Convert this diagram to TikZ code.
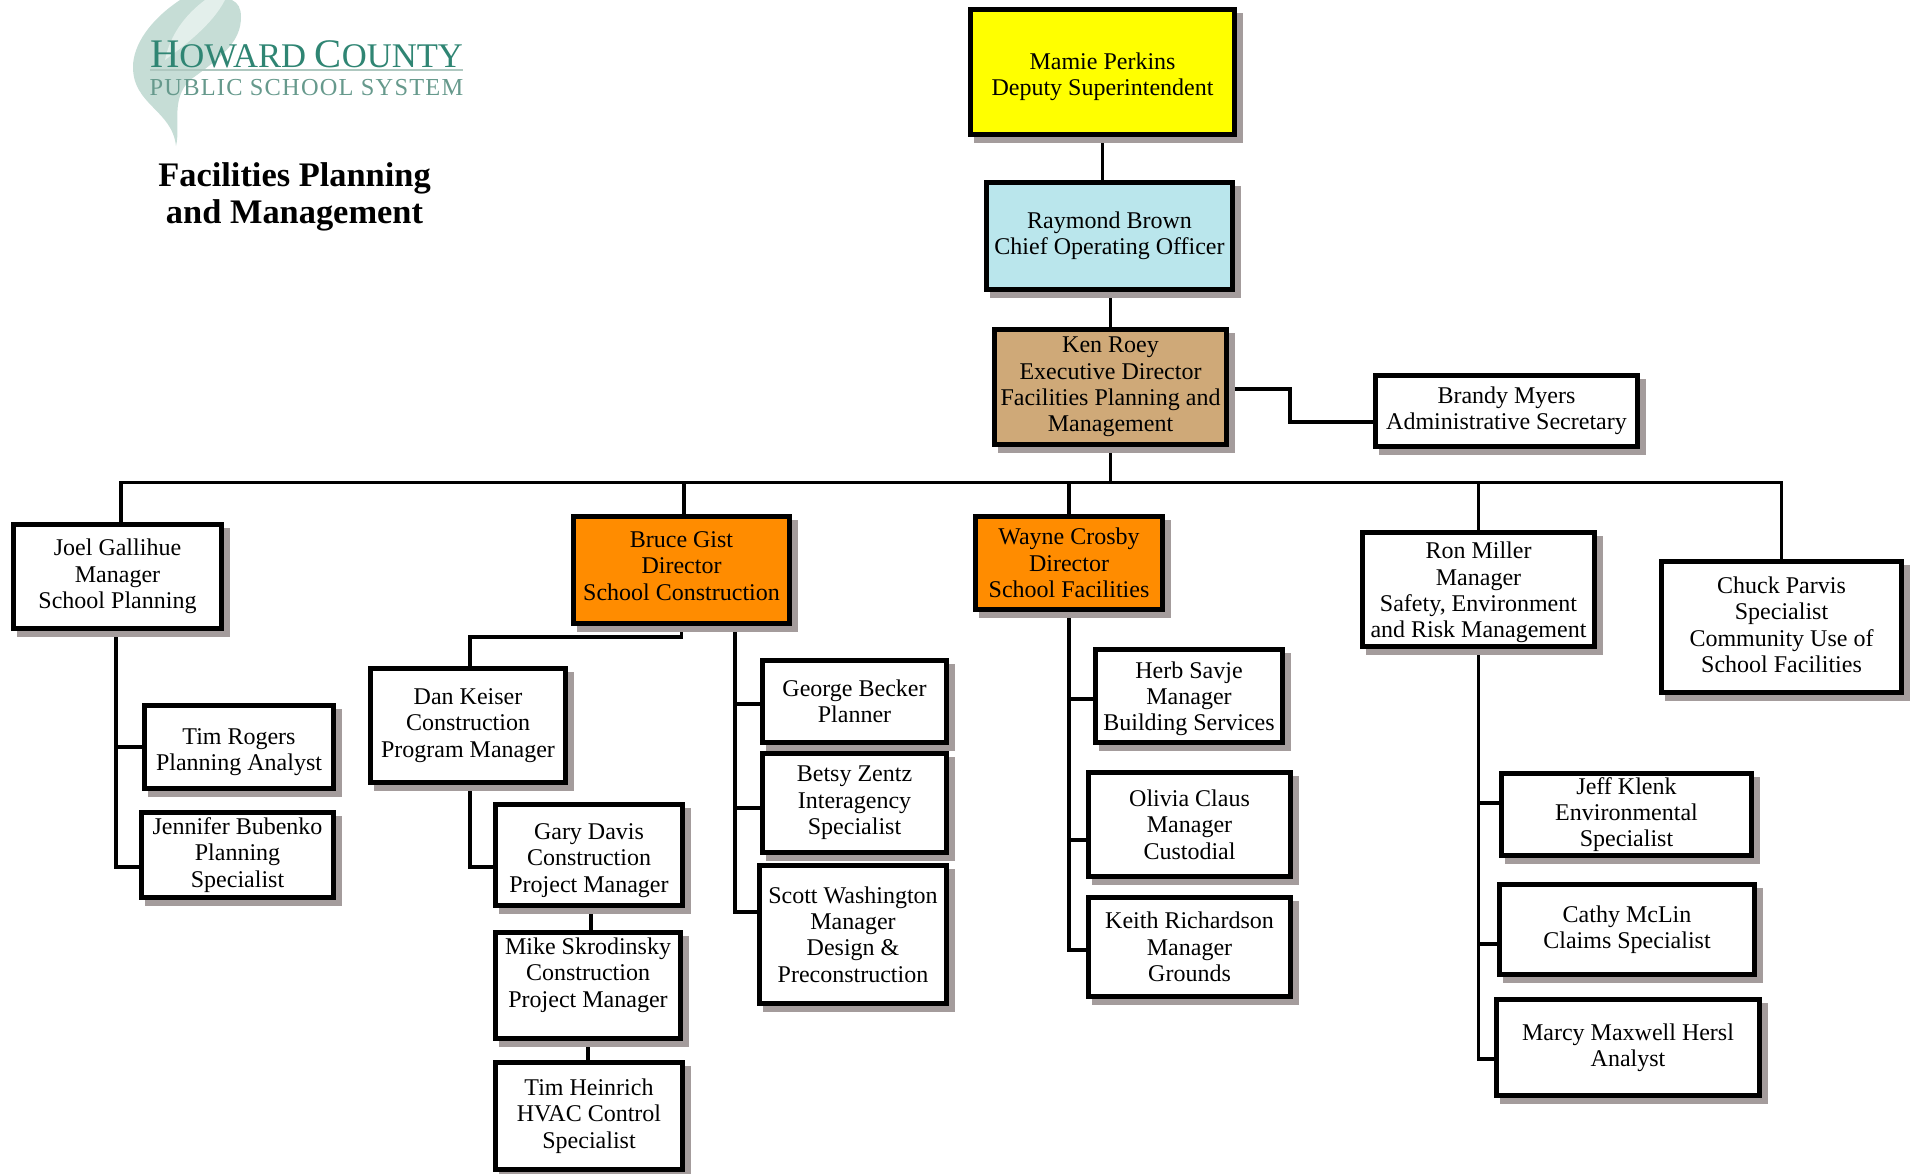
\documentclass[tikz,border=0pt]{standalone}
\usepackage{fontspec}
\setmainfont{Liberation Serif}
\newfontfamily\logospaced[LetterSpace=5]{Liberation Serif}
\usetikzlibrary{backgrounds, positioning, shadows}

\definecolor{boxshadow}{HTML}{A49C9C}
\definecolor{deputyyellow}{HTML}{FFFF00}
\definecolor{officerblue}{HTML}{BAE6EC}
\definecolor{executivetan}{HTML}{CFA978}
\definecolor{directororange}{HTML}{FF8C00}
\definecolor{logoteal}{HTML}{2F8573}
\definecolor{logogray}{HTML}{66998C}
\definecolor{logorule}{HTML}{AFC8C0}
\definecolor{logosmoke}{HTML}{C6DDD6}
\definecolor{logolight}{HTML}{E3EFEB}

\newcommand{\dropby}[1]{\rule{0pt}{#1}}

\tikzset{
	box/.style={draw=black, fill=white, line width=2.5pt, inner sep=0pt, align=center,
		font=\fontsize{12}{13.2}\selectfont,
		drop shadow={shadow xshift=2.75pt, shadow yshift=-3pt, draw=boxshadow, fill=boxshadow, opacity=1}},
	boxsize/.style 2 args={minimum width=(#1-5)*.5pt, minimum height=(#2-5)*.5pt},
	textup/.style={execute at end node=\rule[-#1]{0pt}{#1}},
	link/.style={draw=black, line width=1.6pt}
}

\begin{document}
\begin{tikzpicture}
			
				\useasboundingbox (0,0) rectangle (955.5pt,-586.5pt);
				
				\begin{scope}[x=.5pt, y=-.5pt]
					\fill [logosmoke] (180,0) .. controls (150,20) and (133,45) .. (133,67) .. controls (133,105) and (172,110) .. (176,146) .. controls (181,125) and (170,100) .. (190,80) .. controls (225,55) and (241,40) .. (241,17) .. controls (241,8) and (238,3) .. (232,0) -- cycle;
					\fill [logolight] (205,0) .. controls (185,15) and (170,35) .. (165,60) .. controls (185,45) and (212,25) .. (225,0) -- cycle;
				\end{scope}
				
				\node [text=logoteal, inner sep=0pt]	(howard)	at (153.25pt,-27pt)			{\fontsize{20.3}{20}\selectfont H\fontsize{17.3}{20}\selectfont OWARD \fontsize{20.3}{20}\selectfont C\fontsize{17.3}{20}\selectfont OUNTY};
				\node [text=logogray, inner sep=0pt]	(school)	[below = 5.5pt of howard]	{\logospaced\fontsize{12.2}{12}\selectfont PUBLIC SCHOOL SYSTEM};
				\node [align=center, inner sep=0pt, font=\fontsize{17.2}{18.5}\selectfont\bfseries]	(title)	[below = 33pt of school, xshift=-6pt]	{Facilities Planning\\and Management};
				\draw [logorule, line width=1pt] ([yshift=-1pt]howard.south west) -- ([yshift=-1pt]howard.south east);
				
				\node [box, boxsize={269}{130}, fill=deputyyellow, anchor=north west]	(mamie)	at (484pt,-3.5pt)	{\dropby{13pt}Mamie Perkins\\Deputy Superintendent};
				\node [box, boxsize={251}{112}, fill=officerblue]		(brown)		[below right = 21.5pt and -126.5pt of mamie]	{Raymond Brown\\Chief Operating Officer};
				\node [box, boxsize={237}{120}, fill=executivetan]		(roey)		[below right = 17.5pt and -121.5pt of brown]	{Ken Roey\\Executive Director\\Facilities Planning and\\Management};
				\node [box, boxsize={267}{76}]							(brandy)	[below right = -37pt and 72pt of roey]			{Brandy Myers\\Administrative Secretary};
				
				\node [box, boxsize={221}{112}, fill=directororange, textup=4pt]	(bruce)		[below right = 33.5pt and -329pt of roey]		{Bruce Gist\\Director\\School Construction};
				\node [box, boxsize={192}{98}, fill=directororange]		(wayne)		[below right = 33.5pt and -128pt of roey]		{Wayne Crosby\\Director\\School Facilities};
				\node [box, boxsize={237}{119}]							(ron)		[below right = 41.5pt and 65.5pt of roey]		{\dropby{11.4pt}Ron Miller\\Manager\\Safety, Environment\\and Risk Management};
				\node [box, boxsize={245}{136}, textup=2.4pt]			(chuck)		[below right = -45pt and 31pt of ron]			{Chuck Parvis\\Specialist\\Community Use of\\School Facilities};
				\node [box, boxsize={213}{109}]							(joel)		[below right = -52pt and -390.5pt of bruce]		{Joel Gallihue\\Manager\\School Planning};
				
				\node [box, boxsize={194}{88}]		(timr)		[below right = 36pt and -41pt of joel]		{\dropby{13pt}Tim Rogers\\Planning Analyst};
				\node [box, boxsize={197}{90}]		(jennifer)	[below right = 9.5pt and -98.5pt of timr]	{Jennifer Bubenko\\Planning\\Specialist};
				
				\node [box, boxsize={200}{119}]		(dan)		[below right = 20pt and -212pt of bruce]	{Dan Keiser\\Construction\\Program Manager};
				\node [box, boxsize={192}{106}]		(gary)		[below right = 8.5pt and -37.5pt of dan]	{\dropby{13.5pt}Gary Davis\\Construction\\Project Manager};
				\node [box, boxsize={190}{111}]		(mike)		[below right = 11pt and -96pt of gary]		{Mike Skrodinsky\\Construction\\Project Manager\\~};
				\node [box, boxsize={192}{112}]		(timh)		[below right = 9.5pt and -95pt of mike]		{Tim Heinrich\\HVAC Control\\Specialist};
				
				\node [box, boxsize={189}{87}]		(george)	[below right = 16pt and -16pt of bruce]		{George Becker\\Planner};
				\node [box, boxsize={189}{104}]		(betsy)		[below right = 3pt and -94.5pt of george]	{Betsy Zentz\\Interagency\\Specialist};
				\node [box, boxsize={192}{143}]		(scott)		[below right = 4pt and -96pt of betsy]		{Scott Washington\\Manager\\Design \&\\Preconstruction};
				
				\node [box, boxsize={192}{98}]		(herb)		[below right = 17.5pt and -36pt of wayne]	{\dropby{11pt}Herb Savje\\Manager\\Building Services};
				\node [box, boxsize={207}{109}]		(olivia)	[below right = 12.5pt and -99.5pt of herb]	{Olivia Claus\\Manager\\Custodial};
				\node [box, boxsize={207}{104}]		(keith)		[below right = 8pt and -103.5pt of olivia]	{Keith Richardson\\Manager\\Grounds};
				
				\node [box, boxsize={255}{87}]		(jeff)		[below right = 61pt and -49pt of ron]		{Jeff Klenk\\Environmental\\Specialist};
				\node [box, boxsize={260}{95}]		(cathy)		[below right = 12pt and -128.5pt of jeff]	{Cathy McLin\\Claims Specialist};
				\node [box, boxsize={268}{101}]		(marcy)		[below right = 10pt and -131.5pt of cathy]	{Marcy Maxwell Hersl\\Analyst};
				
				\coordinate [below = 17.75pt of roey] (bus);
				
				\begin{scope}[on background layer]
					\path [link]	(mamie.south) -- (mamie |- brown.north)
									(roey |- brown.south) -- (roey.north)
									(roey.south) -- (bus)
									([yshift=-1pt]roey.east) -- ++(30.5pt,0) |- ([yshift=-5.5pt]brandy.west)
									
									([xshift=1.75pt]joel.north) |- (bus) -| (chuck.north)
									([xshift=1.25pt]bruce.north) -- ([xshift=1.25pt]bruce.north |- bus)
									(wayne.north) -- (wayne |- bus)
									(ron.north) -- (ron |- bus)
									
									([xshift=-.75pt]joel.south) |- (timr.west)
									([xshift=-.75pt]joel.south) |- ([yshift=-6pt]jennifer.west)
									
									(bruce.south) -- ++(0,-5.5pt) -| ([xshift=1pt]dan.north)
									([xshift=1pt]dan.south) |- ([yshift=-6pt]gary.west)
									([xshift=1pt]gary.south) -- ([xshift=1.5pt]mike.north)
									(mike.south) -- (mike |- timh.north)
									
									([xshift=26.75pt]bruce.south) |- ([yshift=-1.25pt]george.west)
									([xshift=26.75pt]bruce.south) |- ([yshift=-2.5pt]betsy.west)
									([xshift=26.75pt]bruce.south) |- ([yshift=11.25pt]scott.west)
									
									(wayne.south) |- ([yshift=-1.5pt]herb.west)
									(wayne.south) |- ([yshift=-7.75pt]olivia.west)
									(wayne.south) |- ([yshift=-1.5pt]keith.west)
									
									(ron.south) |- ([yshift=5.75pt]jeff.west)
									(ron.south) |- ([yshift=-7.25pt]cathy.west)
									(ron.south) |- ([yshift=-5.75pt]marcy.west)
					;
				\end{scope}
			
			\end{tikzpicture}
\end{document}
